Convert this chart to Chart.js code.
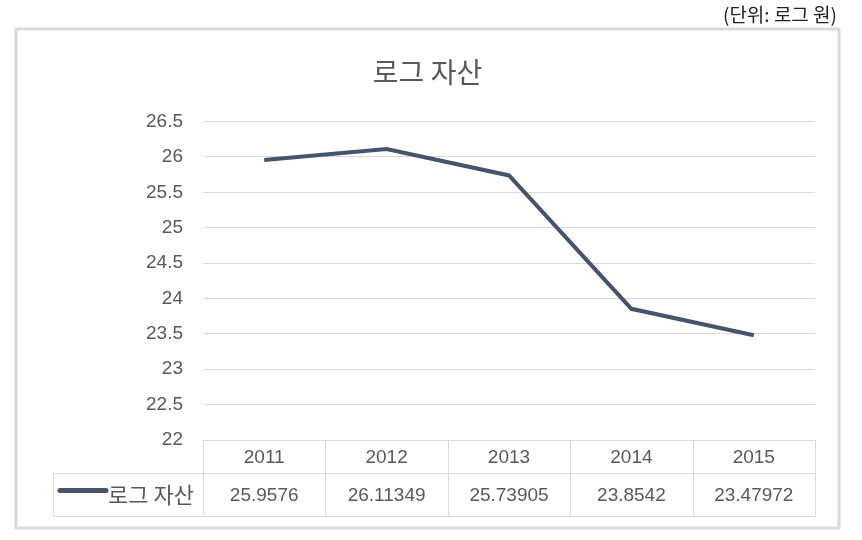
<!DOCTYPE html>
<html>
<head>
<meta charset="utf-8">
<script src="https://cdn.jsdelivr.net/npm/chart.js@4"></script>
<style>
  html, body { margin: 0; padding: 0; background: #fff; }
  #wrap { position: relative; width: 862px; height: 540px; }
</style>
</head>
<body>
<div id="wrap"><canvas id="chart"></canvas></div>
<script>
const years = ['2011', '2012', '2013', '2014', '2015'];
const logAssets = [25.9576, 26.11349, 25.73905, 23.8542, 23.47972];
const valueLabels = ['25.9576', '26.11349', '25.73905', '23.8542', '23.47972'];
const seriesName = '로그 자산';
const chartTitle = '로그 자산';
const unitNote = '(단위: 로그 원)';
const yMin = 22, yMax = 26.5, yStep = 0.5;

const KR = '"Noto Sans CJK KR", "Noto Sans", sans-serif';
const NUM = '"Liberation Sans", sans-serif';
const TEXT = '#595959';
const LINE = '#44546A';
const GRID = '#d9d9d9';

// 테두리, 단위 표시, 데이터 표
const tablePlugin = {
    id: 'dataTable',
    afterDraw(chart) {
        const ctx = chart.ctx;
        const x = chart.scales.x;
        const area = chart.chartArea;
        const colW = x.getPixelForValue(1) - x.getPixelForValue(0);
        const left = x.getPixelForValue(0) - colW / 2;
        const right = x.getPixelForValue(years.length - 1) + colW / 2;
        const top = area.bottom;
        const mid = top + 33;
        const bottom = top + 76;
        const legendLeft = 53.5;

        ctx.save();
        // 차트 외곽 테두리
        ctx.strokeStyle = GRID;
        ctx.lineWidth = 3;
        ctx.strokeRect(16, 29, 823, 499);

        // 단위
        ctx.fillStyle = '#222';
        ctx.font = '19px ' + KR;
        ctx.textAlign = 'right';
        ctx.textBaseline = 'middle';
        ctx.fillText(unitNote, 837, 15);

        // 표 선
        ctx.strokeStyle = GRID;
        ctx.lineWidth = 1;
        ctx.beginPath();
        ctx.moveTo(left, top + 0.5); ctx.lineTo(right, top + 0.5);
        ctx.moveTo(legendLeft, mid + 0.5); ctx.lineTo(right, mid + 0.5);
        ctx.moveTo(legendLeft, bottom + 0.5); ctx.lineTo(right, bottom + 0.5);
        ctx.moveTo(legendLeft, mid); ctx.lineTo(legendLeft, bottom);
        for (let i = 0; i <= years.length; i++) {
            const cx = Math.round(left + i * colW) + 0.5;
            ctx.moveTo(cx, top); ctx.lineTo(cx, bottom);
        }
        ctx.stroke();

        // 연도, 값
        ctx.fillStyle = TEXT;
        ctx.textAlign = 'center';
        ctx.font = '19px ' + NUM;
        years.forEach((y, i) => {
            const cx = x.getPixelForValue(i);
            ctx.fillText(y, cx, (top + mid) / 2 + 1);
            ctx.fillText(valueLabels[i], cx, (mid + bottom) / 2 + 1);
        });

        // 범례
        const ly = (mid + bottom) / 2 - 4;
        ctx.strokeStyle = LINE;
        ctx.lineWidth = 5;
        ctx.lineCap = 'round';
        ctx.beginPath();
        ctx.moveTo(60, ly); ctx.lineTo(106, ly);
        ctx.stroke();
        ctx.fillStyle = TEXT;
        ctx.textAlign = 'left';
        ctx.font = '22px ' + KR;
        ctx.fillText(seriesName, 108, (mid + bottom) / 2);
        ctx.restore();
    }
};

new Chart(document.getElementById('chart'), {
    type: 'line',
    data: {
        labels: years,
        datasets: [{
            label: seriesName,
            data: logAssets,
            borderColor: LINE,
            backgroundColor: LINE,
            borderWidth: 4,
            pointRadius: 0,
            tension: 0,
            fill: false
        }]
    },
    options: {
        responsive: true,
        maintainAspectRatio: false,
        animation: false,
        layout: {
            padding: { top: 0, right: 47, bottom: 100, left: 40 }
        },
        plugins: {
            legend: { display: false },
            tooltip: { enabled: false },
            title: {
                display: true,
                text: chartTitle,
                color: TEXT,
                font: { family: KR, size: 28, weight: 'normal', lineHeight: 1.2 },
                padding: { top: 56, bottom: 32 }
            }
        },
        scales: {
            x: {
                display: false,
                offset: true
            },
            y: {
                min: yMin,
                max: yMax,
                afterFit(scale) { scale.width = 163; },
                border: { display: false },
                grid: { color: GRID, drawTicks: false },
                ticks: {
                    stepSize: yStep,
                    padding: 20,
                    color: TEXT,
                    font: { family: NUM, size: 19 },
                    callback: v => String(v)
                }
            }
        }
    },
    plugins: [tablePlugin]
});
</script>
</body>
</html>
